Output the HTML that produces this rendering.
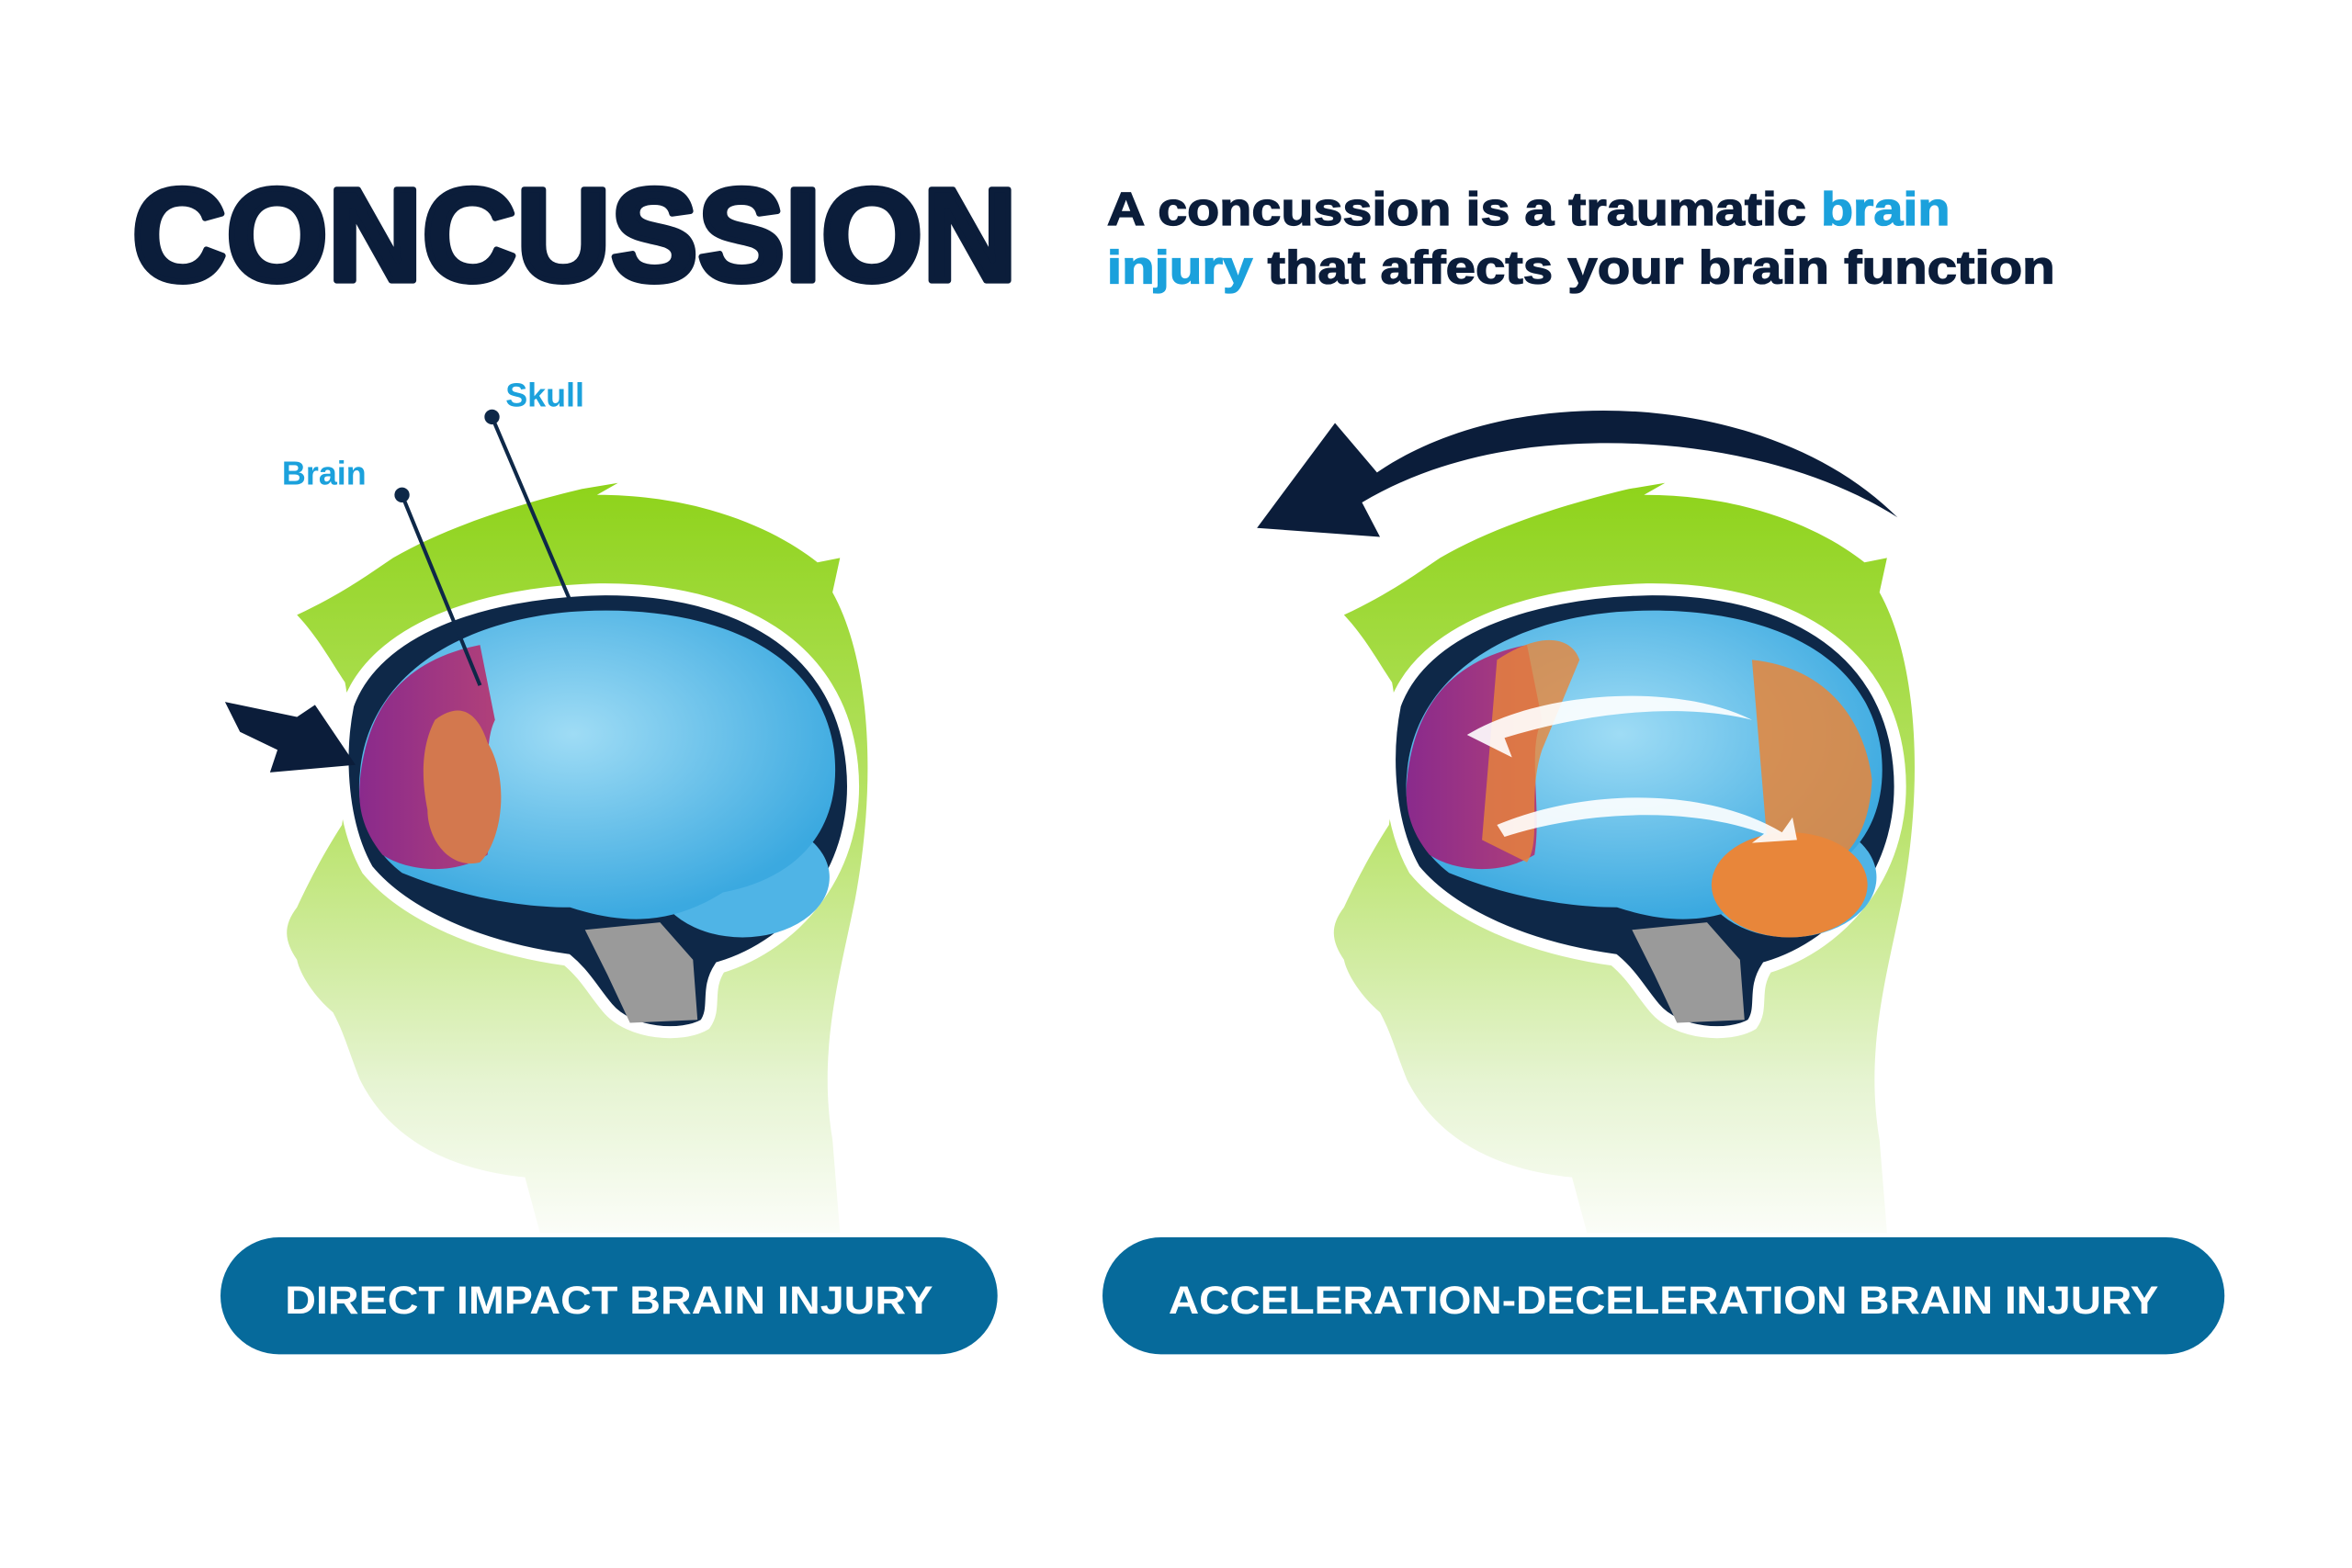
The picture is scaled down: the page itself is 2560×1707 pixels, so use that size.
<!DOCTYPE html>
<html><head><meta charset="utf-8"><style>
html,body{margin:0;padding:0;background:#fff;}
svg{display:block;}
text{font-family:"Liberation Sans",sans-serif;font-weight:bold;}
</style></head><body>
<svg width="2560" height="1707" viewBox="0 0 1568 1045.5" xmlns="http://www.w3.org/2000/svg">
<defs>
<linearGradient id="hg" x1="0" y1="0" x2="0" y2="1">
<stop offset="0" stop-color="#8ed31a"/><stop offset="0.45" stop-color="#b9e36a"/><stop offset="0.8" stop-color="#e6f4d2"/><stop offset="1" stop-color="#fbfdf8"/>
</linearGradient>
<radialGradient id="bl" cx="0.45" cy="0.4" r="0.6"><stop offset="0" stop-color="#9fdcf5"/><stop offset="1" stop-color="#3ba9e0"/></radialGradient>
<linearGradient id="pu" x1="0" y1="0" x2="1" y2="0"><stop offset="0" stop-color="#8a2a8c"/><stop offset="1" stop-color="#b0407a"/></linearGradient>
<g id="head">
<path d="M198,410 C230,395 250,380 262,372 C300,350 350,335 388,326 L412,322 L398,330 C470,330 520,355 545,375 L560,372 L555,395 C580,440 585,520 570,600 C560,650 545,700 555,760 L560,822 L360,822 L350,785 C300,780 260,760 240,720 C232,700 230,690 222,675 C210,665 200,650 198,640 C190,628 188,618 198,605 C205,590 215,570 228,550 C232,520 235,480 230,455 C220,440 212,425 198,410 Z" fill="url(#hg)"/>
<path d="M232,470 C250,420 320,395 400,393 C490,392 560,430 568,510 C575,580 530,630 480,645 C470,660 478,672 470,683 C455,692 420,690 405,672 C395,660 390,650 378,640 C320,632 270,610 245,580 C228,550 225,505 232,470 Z" fill="#0e2848" stroke="#fff" stroke-width="8"/>
<path d="M390,620 L440,615 L462,640 L465,680 L420,682 L405,650 Z" fill="#9a9a9a"/>
<ellipse cx="495" cy="585" rx="58" ry="40" fill="#4fb4e6"/>
<path d="M240,515 C245,455 300,415 380,408 C460,402 545,425 556,500 C562,550 535,585 482,595 C450,615 420,618 380,605 C340,605 300,595 268,582 C246,565 237,542 240,515 Z" fill="url(#bl)"/>
</g>
</defs>

<text x="88" y="187" font-size="88" fill="#0b1d3a" stroke="#0b1d3a" stroke-width="4" stroke-linejoin="round" textLength="590" lengthAdjust="spacingAndGlyphs">CONCUSSION</text>
<text x="738" y="150" font-size="31" fill="#0b1d3a" stroke="#0b1d3a" stroke-width="0.8" textLength="562" lengthAdjust="spacingAndGlyphs">A concussion is a traumatic <tspan fill="#1ba1dc" stroke="#1ba1dc">brain</tspan></text>
<text x="738" y="189" font-size="31" fill="#0b1d3a" stroke="#0b1d3a" stroke-width="0.8" textLength="632" lengthAdjust="spacingAndGlyphs"><tspan fill="#1ba1dc" stroke="#1ba1dc">injury</tspan> that affects your brain function</text>

<use href="#head"/>
<path d="M240,520 C245,470 270,440 320,430 L330,480 C320,500 330,540 325,570 C300,585 270,580 255,570 C243,555 238,540 240,520 Z" fill="url(#pu)"/>
<path d="M290,480 C310,465 320,480 325,495 C340,520 335,560 320,575 C300,580 285,560 285,540 C280,515 282,495 290,480 Z" fill="#d3784e"/>
<path d="M150,468 L160,488 L185,500 L180,515 L237,510 L210,470 L198,478 Z" fill="#0b1d3a"/>
<line x1="268" y1="330" x2="320" y2="457" stroke="#0e2848" stroke-width="2.5"/>
<circle cx="268" cy="330" r="5" fill="#0e2848"/>
<line x1="328" y1="278" x2="382" y2="405" stroke="#0e2848" stroke-width="2.5"/>
<circle cx="328" cy="278" r="5" fill="#0e2848"/>
<text x="188" y="323" font-size="22" fill="#1ba1dc" font-family="Liberation Serif,serif">Brain</text>
<text x="337" y="271" font-size="22" fill="#1ba1dc" font-family="Liberation Serif,serif">Skull</text>

<g transform="translate(698,0)">
<use href="#head"/>
<path d="M240,520 C245,470 270,440 320,430 L330,480 C320,500 330,540 325,570 C300,585 270,580 255,570 C243,555 238,540 240,520 Z" fill="url(#pu)"/>
<path d="M300,440 C330,420 350,425 355,440 L330,500 C320,530 330,560 320,575 L290,560 Z" fill="#e8863a" opacity="0.8"/>
<path d="M470,440 C520,445 545,480 550,520 C548,560 530,580 500,585 L480,560 Z" fill="#e8863a" opacity="0.85"/>
<ellipse cx="495" cy="590" rx="52" ry="35" fill="#e8863a"/>
<path d="M280,490 C330,460 420,455 470,480 C430,470 370,472 305,492 L310,505 Z" fill="#fff" opacity="0.9"/>
<path d="M300,550 C360,525 440,525 490,555 L497,545 L500,560 L470,562 L478,556 C430,538 360,540 305,558 Z" fill="#fff" opacity="0.9"/>
</g>

<path d="M1265,345 C1210,290 1120,268 1040,275 C980,280 940,300 918,315 L890,282 L838,352 L920,358 L908,335 C950,310 1000,298 1050,296 C1130,292 1210,310 1265,345 Z" fill="#0b1d3a"/>

<rect x="147" y="825" width="518" height="78" rx="39" fill="#066a9b"/>
<text x="406" y="876" font-size="26" fill="#fff" text-anchor="middle" textLength="432" lengthAdjust="spacingAndGlyphs">DIRECT IMPACT BRAIN INJURY</text>
<rect x="735" y="825" width="748" height="78" rx="39" fill="#066a9b"/>
<text x="1109" y="876" font-size="26" fill="#fff" text-anchor="middle" textLength="660" lengthAdjust="spacingAndGlyphs">ACCELERATION-DECELERATION BRAIN INJURY</text>
</svg>
</body></html>
